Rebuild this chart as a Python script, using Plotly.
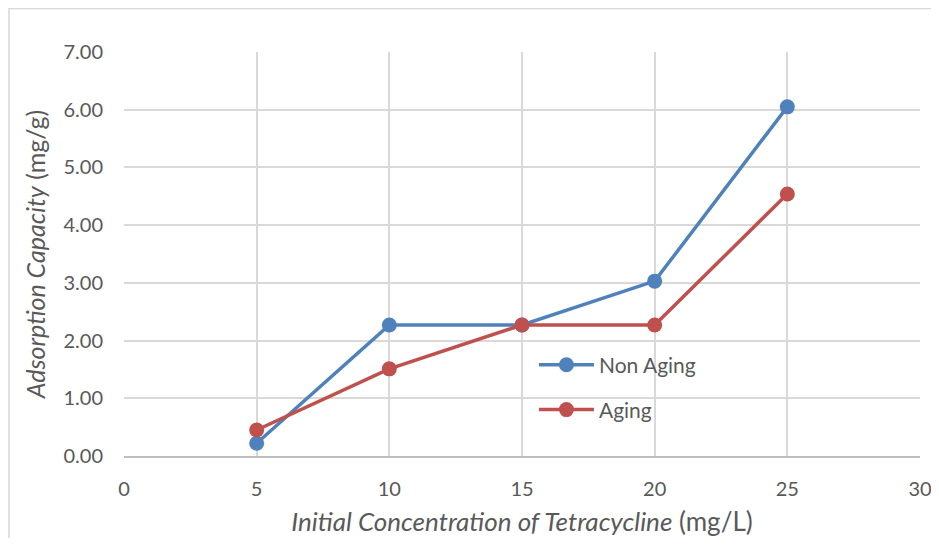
import plotly.graph_objects as go

concentration = [5, 10, 15, 20, 25]
non_aging = [0.22, 2.27, 2.27, 3.03, 6.05]
aging = [0.45, 1.51, 2.27, 2.27, 4.54]

blue = "#4F81BD"
red = "#C0504D"
font = "Lato, 'Open Sans', Arial, sans-serif"

fig = go.Figure()
fig.add_trace(go.Scatter(
    x=concentration, y=non_aging, name="Non Aging", mode="lines+markers",
    line=dict(color=blue, width=3.5), marker=dict(color=blue, size=15),
    legend="legend", showlegend=True,
))
fig.add_trace(go.Scatter(
    x=concentration, y=aging, name="Aging", mode="lines+markers",
    line=dict(color=red, width=3.5), marker=dict(color=red, size=15),
    legend="legend2", showlegend=True,
))

legend_style = dict(
    xanchor="left", yanchor="middle", bgcolor="rgba(0,0,0,0)",
    font=dict(family=font, size=21, color="#595959"), itemwidth=55,
)

# the page body adds an 8px margin on every side, so the figure is 16px
# smaller than the window to avoid scrollbars
fig.update_layout(
    width=923, height=530,
    margin=dict(l=116, r=11, t=44, b=82),
    paper_bgcolor="white", plot_bgcolor="white",
    showlegend=True,
    font=dict(family=font, color="#595959"),
    legend=dict(x=0.515, y=0.225, **legend_style),
    legend2=dict(x=0.515, y=0.114, **legend_style),
    xaxis=dict(
        range=[0, 30], tickvals=[0, 5, 10, 15, 20, 25, 30], automargin=False,
        showgrid=True, gridcolor="#D9D9D9", gridwidth=1.5,
        showline=True, linecolor="#BFBFBF", linewidth=1.5,
        zeroline=False, ticks="", ticklabelstandoff=14,
        ticklabeloverflow="allow",
        tickfont=dict(size=20, color="#595959"),
        title=dict(text="<i>Initial Concentration of Tetracycline</i> (mg/L)",
                   font=dict(size=26, color="#595959"), standoff=14),
    ),
    yaxis=dict(
        range=[0, 7], dtick=1, tickformat=".2f", automargin=False,
        showgrid=True, gridcolor="#D9D9D9", gridwidth=1.5,
        zeroline=False, ticks="", ticklabelstandoff=20,
        tickfont=dict(size=20, color="#595959"),
        title=dict(text="<i>Adsorption Capacity</i> (mg/g)",
                   font=dict(size=25, color="#595959"), standoff=10),
    ),
)

# light outer chart border, as in the spreadsheet export
fig.add_shape(
    type="rect", xref="paper", yref="paper",
    x0=-0.1445, x1=1.2, y0=-0.5, y1=1.1077,
    line=dict(color="#D9D9D9", width=1.5), fillcolor="rgba(0,0,0,0)",
    layer="below",
)

fig.write_html("out.html")
